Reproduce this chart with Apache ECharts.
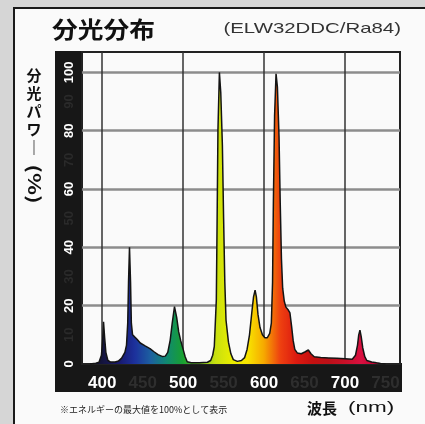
<!DOCTYPE html>
<html>
<head>
<meta charset="utf-8">
<script src="https://cdn.jsdelivr.net/npm/echarts@6/dist/echarts.min.js"></script>
<style>
  html, body { margin: 0; padding: 0; background: #d6d6d6; }
  #chart { width: 425px; height: 424px; }
</style>
</head>
<body>
<div id="chart"></div>
<script>
// Spectral power distribution of the lamp (relative, max = 100%)
const wavelengths = [
  385, 392, 396, 399, 400.5, 401.6, 403, 404.5, 407, 410, 416,
  420, 424, 428, 430, 431.5, 432.5, 433.7, 435, 436, 437.5, 440, 443, 447, 453, 459, 464, 469, 474, 478,
  481, 484, 486.5, 489.3, 492, 494.5, 497, 500, 502.5, 505, 510, 520, 530,
  534, 536.5, 538.5, 541, 542, 543, 544.8, 546.5, 548.5, 550, 551.5, 553, 556, 559, 562, 567, 572,
  576, 579, 582, 585, 587, 588.9, 590.5, 592.5, 595, 598, 601, 604, 607,
  609, 610.5, 611.5, 613, 614.8, 616.5, 618.5, 620, 621.5, 623, 625, 627, 630, 632, 634, 636, 638, 641,
  646, 651, 654.7, 658, 662, 670, 680, 690, 700, 709,
  713, 715.5, 717, 718.5, 720, 722, 724.5, 727, 733, 739, 744, 750
];
const power = [
  0, 0.3, 0.6, 3, 8, 14.5, 9, 4, 1.2, 0.7, 0.7,
  1, 2, 4, 6.5, 14, 28, 40, 28, 14, 10, 9.3, 8.5, 7.2, 6.2, 5.3, 4.2, 3.2, 2.6, 2.7,
  4, 8.2, 14, 19.7, 16, 11, 8, 5, 2.5, 0.8, 0.4, 0.4, 0.6,
  1.2, 3, 6, 22, 50, 80, 100, 93, 75, 50, 28, 15, 7.5, 3.5, 1.5, 0.9, 1.2,
  2.2, 5, 10, 18, 23, 25.3, 23, 17, 12.5, 10, 9, 9, 10.5,
  14, 28, 55, 85, 99.5, 95, 78, 55, 36, 26, 21.5, 19.5, 18.5, 17.5, 13, 8, 5, 3.8,
  3.5, 4.2, 4.8, 3.5, 2.5, 2.2, 2.1, 2, 1.8, 1.6,
  3, 6.5, 10, 11.6, 9.5, 5.5, 2.5, 1.2, 0.7, 0.4, 0.2, 0
];
// Gridline positions
const xGridTicks = [400, 500, 600, 700];
const yGridTicks = [20, 40, 60, 80, 100];
// Wavelength colours (380 nm .. 760 nm, every 20 nm)
const spectrumColors = [
  '#0a0a25', '#14143c', '#18186c', '#1c309c', '#1c60a0', '#108a70', '#18a030', '#70c020',
  '#c8e010', '#e8ec00', '#f8e400', '#f6a800', '#ee4010', '#dc1a10', '#c41010', '#bc1018',
  '#c81028', '#d81040', '#c00030', '#a00020'
];

const spectrum = wavelengths.map((w, i) => [w, power[i]]);

const chart = echarts.init(document.getElementById('chart'), null, { renderer: 'canvas' });

const labelRich = (size, dim) => ({
  w: { color: '#ffffff', fontWeight: 'bold', fontSize: size, fontFamily: 'Liberation Sans' },
  g: { color: dim, fontWeight: 'bold', fontSize: size, fontFamily: 'Liberation Sans' }
});

chart.setOption({
  animation: false,
  backgroundColor: '#d6d6d6',
  grid: {
    left: 82, right: 25, top: 52, bottom: 60,
    show: true, borderColor: '#222', borderWidth: 2, backgroundColor: 'transparent'
  },
  xAxis: {
    type: 'value', min: 375, max: 768, interval: 25,
    axisLine: { show: false }, axisTick: { show: false }, splitLine: { show: false },
    axisLabel: {
      margin: 11,
      formatter: (v) => {
        if (v % 100 === 0 && v >= 400 && v <= 700) return '{w|' + v + '}';
        if (v % 50 === 0 && v >= 450 && v <= 750) return '{g|' + v + '}';
        return '';
      },
      rich: labelRich(17, '#2e2e2e')
    }
  },
  yAxis: {
    type: 'value', min: 0, max: 107, interval: 10,
    axisLine: { show: false }, axisTick: { show: false }, splitLine: { show: false },
    axisLabel: {
      rotate: 90, margin: 6,
      formatter: (v) => {
        if (v % 20 === 0 && v <= 100) return '{w|' + v + '}';
        if (v % 10 === 0 && v < 100) return '{g|' + v + '}';
        return '';
      },
      rich: labelRich(13, '#2a2a2a')
    }
  },
  visualMap: {
    type: 'continuous', show: false, dimension: 0, seriesIndex: 1,
    min: 380, max: 760, inRange: { color: spectrumColors }
  },
  series: [
    {
      // grid lines
      type: 'line', z: 1, silent: true, data: spectrum, showSymbol: false,
      lineStyle: { width: 0, opacity: 0 },
      markLine: {
        z: 1, silent: true, symbol: ['none', 'none'], label: { show: false },
        animation: false,
        lineStyle: { type: 'solid' },
        data: [
          ...yGridTicks.map(v => ({ yAxis: v, lineStyle: { color: '#8c8c8c', width: 2.5, type: 'solid' } })),
          ...xGridTicks.map(v => ({ xAxis: v, lineStyle: { color: '#333333', width: 1.5, type: 'solid' } }))
        ]
      }
    },
    {
      // coloured fill under the curve
      type: 'line', z: 2, silent: true, data: spectrum, showSymbol: false,
      lineStyle: { width: 0 },
      areaStyle: { opacity: 1 }
    },
    {
      // dark outline of the curve
      type: 'line', z: 3, silent: true, data: spectrum, showSymbol: false,
      lineStyle: { color: '#141414', width: 1.5 }
    }
  ],
  graphic: [
    { type: 'rect', z: -10, silent: true,
      shape: { x: 14, y: 8, width: 420, height: 430 },
      style: { fill: '#fafafa', stroke: '#1a1a1a', lineWidth: 2 } },
    { type: 'rect', z: -5, silent: true,
      shape: { x: 55, y: 51, width: 27, height: 341 },
      style: { fill: '#171717' } },
    { type: 'rect', z: -5, silent: true,
      shape: { x: 55, y: 363, width: 347, height: 29 },
      style: { fill: '#171717' } },
    { type: 'text', x: 52, y: 29, scaleX: 1.12,
      style: { text: '分光分布', font: 'bold 23px "Noto Sans CJK JP"', fill: '#111',
               verticalAlign: 'middle' } },
    { type: 'text', x: 401, y: 29, scaleX: 1.36,
      style: { text: '(ELW32DDC/Ra84)', font: '15px "Liberation Sans"', fill: '#333',
               align: 'right', verticalAlign: 'middle' } },
    { type: 'text', x: 34, y: 66,
      style: { text: '分\n光\nパ\nワ\n｜', font: 'bold 15px "Noto Sans CJK JP"',
               lineHeight: 18, fill: '#111', align: 'center', verticalAlign: 'top' } },
    { type: 'text', x: 34, y: 184, rotation: -Math.PI / 2, scaleX: 1.35,
      style: { text: '(%)', font: 'bold 17px "Noto Sans CJK JP"', fill: '#111',
               align: 'center', verticalAlign: 'middle' } },
    { type: 'text', x: 60, y: 410,
      style: { text: '※エネルギーの最大値を100%として表示', font: '9px "Noto Sans CJK JP"',
               fill: '#222', verticalAlign: 'middle' } },
    { type: 'text', x: 307, y: 408,
      style: { text: '波長', font: 'bold 15px "Noto Sans CJK JP"', fill: '#111',
               verticalAlign: 'middle' } },
    { type: 'text', x: 348, y: 408, scaleX: 1.5,
      style: { text: '(nm)', font: '15px "Liberation Sans"', fill: '#111',
               verticalAlign: 'middle' } }
  ]
});
</script>
</body>
</html>
